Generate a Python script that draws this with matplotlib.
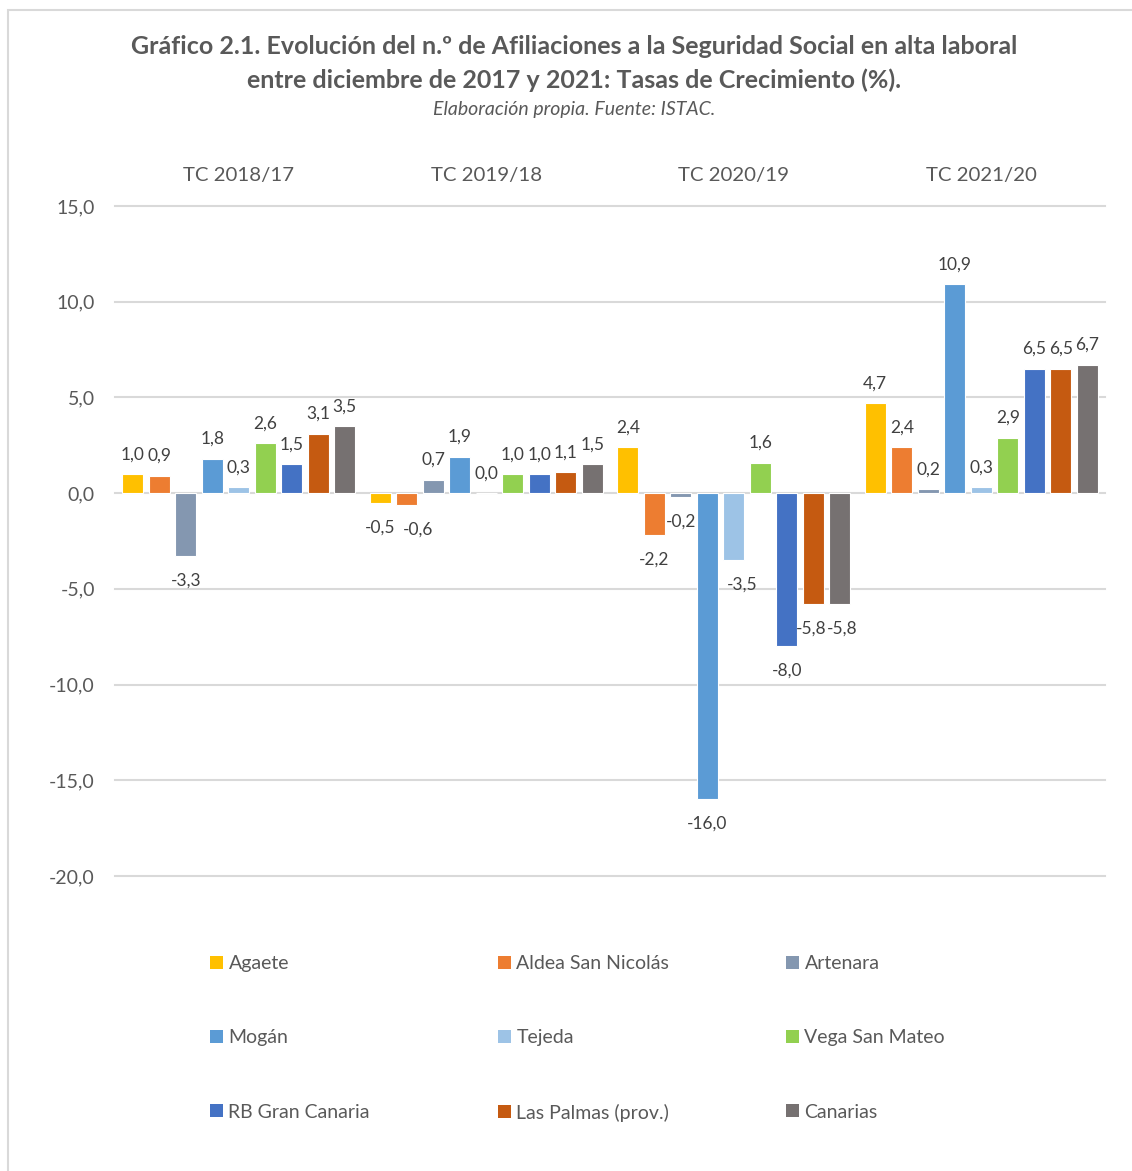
import matplotlib.pyplot as plt
from matplotlib.patches import Rectangle, Patch
import numpy as np

periods = ['TC 2018/17', 'TC 2019/18', 'TC 2020/19', 'TC 2021/20']
series = ['Agaete', 'Aldea San Nicolás', 'Artenara', 'Mogán', 'Tejeda',
          'Vega San Mateo', 'RB Gran Canaria', 'Las Palmas (prov.)', 'Canarias']
colors = ['#FFC000', '#ED7D31', '#8497B0', '#5B9BD5', '#9DC3E6',
          '#92D050', '#4472C4', '#C55A11', '#767171']

agaete = [1.0, -0.5, 2.4, 4.7]
aldea = [0.9, -0.6, -2.2, 2.4]
artenara = [-3.3, 0.7, -0.2, 0.2]
mogan = [1.8, 1.9, -16.0, 10.9]
tejeda = [0.3, 0.0, -3.5, 0.3]
vega = [2.6, 1.0, 1.6, 2.9]
rb_gc = [1.5, 1.0, -8.0, 6.5]
las_palmas = [3.1, 1.1, -5.8, 6.5]
canarias = [3.5, 1.5, -5.8, 6.7]
values = [agaete, aldea, artenara, mogan, tejeda, vega, rb_gc, las_palmas, canarias]

yticks = [15, 10, 5, 0, -5, -10, -15, -20]

txt = '#595959'
plt.rcParams['font.family'] = ['Lato', 'DejaVu Sans']

fig = plt.figure(figsize=(11.32, 11.71), dpi=100)
ax = fig.add_axes([115/1132, 1-876/1171, 990/1132, 670/1171])

x = np.arange(len(periods))
slot = 0.107
w = 0.085
all_labels = []
for i, (name, vals) in enumerate(zip(series, values)):
    pos = x + (i - 4) * slot
    bars = ax.bar(pos, vals, width=w, color=colors[i], edgecolor='white', linewidth=0.8, label=name, zorder=3)
    anns = ax.bar_label(bars, labels=[f'{v:.1f}'.replace('.', ',') for v in vals],
                        padding=8.5, fontsize=12.5, color='#404040')
    for a, v in zip(anns, vals):
        if v < 0:
            a.xyann = (0, -12)
    all_labels.append(anns)

# nudge crowded labels sideways, as the original does
all_labels[1][1].xyann = (8, -12)
all_labels[4][2].xyann = (6, -12)
all_labels[7][2].xyann = (-1.5, -12)
all_labels[8][2].xyann = (1.5, -12)

ax.set_xlim(-0.5, 3.5)
ax.set_ylim(-20, 15)
ax.set_yticks(yticks)
ax.set_yticklabels([f'{t:.1f}'.replace('.', ',') for t in yticks], fontsize=14, color=txt)
for t in yticks:
    ax.axhline(t, color='#D9D9D9', lw=1.5, zorder=1, clip_on=False)
ax.tick_params(axis='y', length=0, pad=14.5)
ax.xaxis.tick_top()
ax.set_xticks(x)
ax.set_xticklabels(periods, fontsize=14.7, color=txt)
ax.tick_params(axis='x', length=0, pad=16)
for s in ax.spines.values():
    s.set_visible(False)

fig.text(0.507, 1-47/1171, 'Gráfico 2.1. Evolución del n.º de Afiliaciones a la Seguridad Social en alta laboral',
         ha='center', va='center', fontsize=18, fontweight='bold', color=txt)
fig.text(0.507, 1-80/1171, 'entre diciembre de 2017 y 2021: Tasas de Crecimiento (%).',
         ha='center', va='center', fontsize=18, fontweight='bold', color=txt)
fig.text(0.507, 1-110/1171, 'Elaboración propia. Fuente: ISTAC.',
         ha='center', va='center', fontsize=14, style='italic', color=txt)

# legend: 3 columns, row-wise order
col_x = [210, 498, 786]
for c in range(3):
    handles = [Patch(facecolor=colors[c + 3*r], edgecolor='none') for r in range(3)]
    labels = [series[c + 3*r] for r in range(3)]
    fig.legend(handles, labels, loc='upper left', bbox_to_anchor=(col_x[c]/1132, 1-955/1171),
               frameon=False, fontsize=14, labelcolor=txt, handlelength=0.65, handleheight=0.65,
               handletextpad=0.3, labelspacing=2.95, borderpad=0, borderaxespad=0)

fig.add_artist(Rectangle((8/1132, -0.05), 1.1, 1.05 - 10/1171, fill=False,
                         edgecolor='#D9D9D9', lw=1.5, transform=fig.transFigure))

fig.savefig('out.png', dpi=100)
